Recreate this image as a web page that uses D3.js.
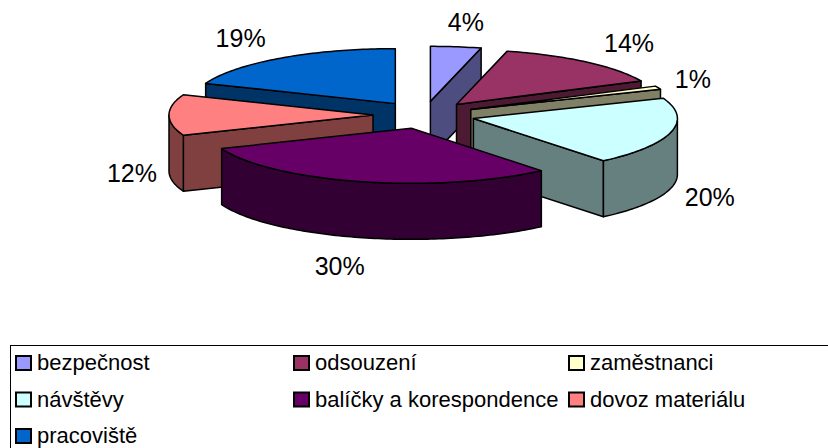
<!DOCTYPE html>
<html>
<head>
<meta charset="utf-8">
<script src="https://cdn.jsdelivr.net/npm/d3@7"></script>
<style>
  body { margin: 0; background: #fff; }
  svg { display: block; font-family: "Liberation Sans", Arial, sans-serif; }
</style>
</head>
<body>
<svg id="chart" width="828" height="448"></svg>
<script>
// data
var categories = ["bezpečnost", "odsouzení", "zaměstnanci", "návštěvy",
                  "balíčky a korespondence", "dovoz materiálu", "pracoviště"];
var values = [4, 14, 1, 20, 30, 12, 19];
var labels = ["4%", "14%", "1%", "20%", "30%", "12%", "19%"];
var colors = ["#9999FF", "#993366", "#FFFFCC", "#CCFFFF", "#660066", "#FF8080", "#0066CC"];

var svg = d3.select("#chart");
svg.append("rect").attr("width", 828).attr("height", 448).attr("fill", "#fff");

// pie geometry (tilted ellipse + extruded depth)
var cx = 424, cy = 115, rx = 204, ry = 55, depth = 56, explode = 0.25;

function shade(c) {
  var r = d3.rgb(c);
  return d3.rgb(r.r / 2, r.g / 2, r.b / 2).formatHex();
}

var slices = d3.pie().sort(null).value(function(d) { return d; })(values)
  .map(function(p, i) {
    p.i = i;
    p.mid = (p.startAngle + p.endAngle) / 2;
    p.ex = cx + explode * rx * Math.sin(p.mid);
    p.ey = cy - explode * ry * Math.cos(p.mid);
    return p;
  });

// back slices first, front slices last
var order = slices.slice().sort(function(a, b) {
  return -Math.cos(a.mid) + Math.cos(b.mid);
});

var line = d3.line();
var pieG = svg.append("g")
  .attr("stroke", "#000")
  .attr("stroke-width", 1.5)
  .attr("stroke-linejoin", "round");

order.forEach(function(s) {
  var ex = s.ex, ey = s.ey;
  var P = function(a, dz) {
    return [ex + rx * Math.sin(a), ey - ry * Math.cos(a) + (dz || 0)];
  };
  var sample = function(a0, a1, dz) {
    var n = Math.max(2, Math.ceil((a1 - a0) / 0.02)), pts = [];
    for (var k = 0; k <= n; k++) pts.push(P(a0 + (a1 - a0) * k / n, dz));
    return pts;
  };
  var g = pieG.append("g");
  var side = shade(colors[s.i]);
  var a0 = s.startAngle, a1 = s.endAngle;

  function radial(a) {
    g.append("path")
      .attr("fill", side)
      .attr("d", line([[ex, ey], P(a), P(a, depth), [ex, ey + depth]]) + "Z");
  }
  if (Math.sin(a0) < -1e-6) radial(a0);
  if (Math.sin(a1) > 1e-6) radial(a1);

  var lo = Math.max(a0, Math.PI / 2), hi = Math.min(a1, 3 * Math.PI / 2);
  if (hi > lo) {
    var wall = sample(lo, hi, 0).concat(sample(lo, hi, depth).reverse());
    g.append("path").attr("fill", side).attr("d", line(wall) + "Z");
  }

  g.append("path")
    .attr("fill", colors[s.i])
    .attr("d", line([[ex, ey]].concat(sample(a0, a1, 0))) + "Z");
});

// data labels: outside the rim, below the wall on the front half
var lbl = svg.append("g").selectAll("text")
  .data(slices)
  .enter().append("text")
    .attr("text-anchor", "middle")
    .attr("dominant-baseline", "central")
    .attr("font-size", 25)
    .attr("fill", "#000")
    .text(function(d) { return labels[d.i]; });
lbl.each(function(d) {
  var w = this.getComputedTextLength();
  var s = Math.sin(d.mid), c = Math.cos(d.mid);
  var front = Math.min(1, Math.max(0, (0.3 - c) / 0.3));
  d3.select(this)
    .attr("x", d.ex + s * (216 + w / 2 + 50 * c * c))
    .attr("y", d.ey + 2 - 82 * c + depth * front);
});

// legend
var legend = svg.append("g");
legend.append("rect")
  .attr("x", 10.5).attr("y", 345.5)
  .attr("width", 840).attr("height", 130)
  .attr("fill", "#fff").attr("stroke", "#000").attr("stroke-width", 1);

var colX = [15, 293, 568], rowY = [355, 391.5, 428];
var items = legend.selectAll(".item")
  .data(categories)
  .enter().append("g")
    .attr("class", "item")
    .attr("transform", function(d, i) {
      return "translate(" + colX[i % 3] + "," + rowY[Math.floor(i / 3)] + ")";
    });
items.append("rect")
  .attr("x", 1).attr("y", 1).attr("width", 15).attr("height", 14)
  .attr("fill", function(d, i) { return colors[i]; })
  .attr("stroke", "#000").attr("stroke-width", 2);
items.append("text")
  .attr("x", 22).attr("y", 15)
  .attr("font-size", 22)
  .attr("fill", "#000")
  .text(function(d) { return d; });
</script>
</body>
</html>
